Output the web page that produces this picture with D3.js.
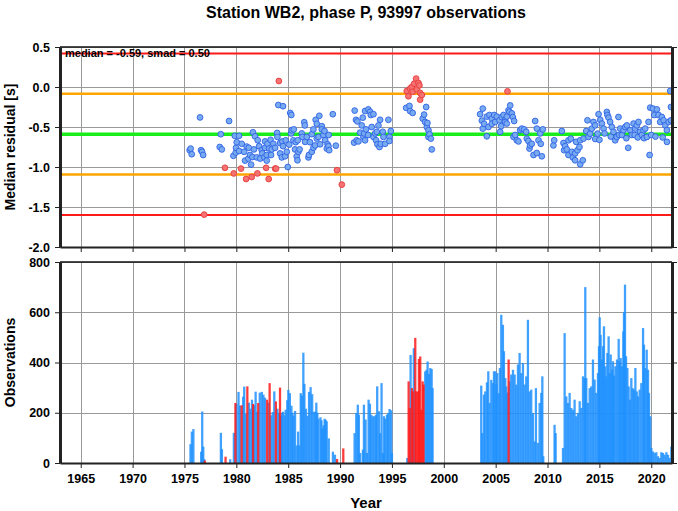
<!DOCTYPE html>
<html><head><meta charset="utf-8">
<script src="https://cdn.jsdelivr.net/npm/d3@7"></script>
<style>
body{margin:0;background:#fff}
text{font-family:"Liberation Sans",Arial,Helvetica,sans-serif;font-weight:bold;fill:#000}
</style>
</head><body>
<svg id="c" width="678" height="511"></svg>
<script>
const titleText = "Station WB2, phase P, 93997 observations";
const statsText = "median = -0.59, smad = 0.50";
const yTopLabel = "Median residual [s]";
const yBotLabel = "Observations";
const xLabel = "Year";
const medianVal = -0.59;
const smadVal = 0.505;
const xTicks = [1965,1970,1975,1980,1985,1990,1995,2000,2005,2010,2015,2020];
const yTopTicks = [0.5,0.0,-0.5,-1.0,-1.5,-2.0];
const yBotTicks = [0,200,400,600,800];

// residual points [year, median residual]
const bluePts = [
[1975.5,-0.79],[1975.6,-0.77],[1975.7,-0.84],[1976.5,-0.38],[1976.6,-0.79],[1976.7,-0.81],[1976.8,-0.85],
[1978.4,-0.75],[1978.5,-0.59],[1978.6,-0.78],[1979.3,-0.425],
[1979.72,-0.86],[1979.85,-0.61],[1979.94,-0.82],[1979.97,-0.76],[1980.04,-0.69],[1980.26,-0.61],[1980.26,-0.80],
[1980.52,-0.71],[1980.75,-0.81],[1980.84,-0.92],[1981.0,-0.745],[1981.16,-0.895],[1981.2,-0.76],[1981.32,-0.85],
[1981.42,-0.97],[1981.55,-0.875],[1981.6,-0.566],[1981.7,-0.78],[1981.8,-0.616],[1981.97,-0.88],[1982.06,-0.666],
[1982.2,-0.74],[1982.3,-0.895],[1982.45,-0.79],[1982.5,-0.83],[1982.7,-0.88],[1982.77,-0.68],[1982.77,-0.76],
[1982.93,-0.85],[1982.93,-0.92],[1983.0,-0.71],[1983.16,-0.77],[1983.3,-0.66],[1983.35,-0.85],[1983.41,-0.78],
[1983.57,-0.71],[1983.74,-0.76],[1983.93,-0.574],[1983.96,-0.624],[1984.05,-0.225],[1984.22,-0.70],[1984.22,-0.83],
[1984.38,-0.88],[1984.44,-0.68],[1984.5,-0.24],[1984.5,-0.74],[1984.7,-0.866],[1984.76,-0.666],[1984.86,-0.81],
[1984.96,-1.0],[1985.1,-0.72],[1985.2,-0.325],[1985.3,-0.35],[1985.28,-0.58],[1985.34,-0.54],[1985.5,-0.666],
[1985.54,-0.53],[1985.66,-0.78],[1985.73,-0.69],[1985.82,-0.866],[1985.89,-0.916],[1985.92,-0.666],[1985.98,-0.81],
[1986.1,-0.78],[1986.31,-0.58],[1986.37,-0.624],[1986.55,-0.44],[1986.6,-0.48],[1986.63,-0.686],[1986.79,-0.624],
[1986.95,-0.88],[1987.0,-0.85],[1987.1,-0.69],[1987.27,-0.59],[1987.27,-0.81],[1987.43,-0.53],[1987.43,-0.76],
[1987.6,-0.73],[1987.65,-0.41],[1987.76,-0.46],[1987.76,-0.645],[1987.92,-0.624],[1988.0,-0.36],[1988.08,-0.716],
[1988.24,-0.49],[1988.24,-0.53],[1988.4,-0.60],[1988.5,-0.55],[1988.56,-0.666],[1988.72,-0.77],[1988.8,-0.716],
[1988.88,-0.74],[1988.9,-0.60],[1988.95,-0.79],[1989.3,-0.34],[1989.59,-0.733],
[1991.35,-0.695],[1991.41,-0.295],[1991.54,-0.41],[1991.6,-0.666],[1991.67,-0.43],[1991.77,-0.68],[1991.93,-0.57],
[1992.09,-0.48],[1992.19,-0.383],[1992.25,-0.624],[1992.32,-0.58],[1992.41,-0.30],[1992.41,-0.666],[1992.5,-0.53],
[1992.7,-0.60],[1992.73,-0.28],[1992.9,-0.31],[1992.96,-0.35],[1993.05,-0.50],[1993.22,-0.34],[1993.22,-0.624],
[1993.38,-0.58],[1993.47,-0.666],[1993.54,-0.56],[1993.6,-0.716],[1993.7,-0.48],[1993.8,-0.75],[1993.86,-0.41],
[1993.92,-0.71],[1994.12,-0.56],[1994.18,-0.624],[1994.34,-0.71],[1994.66,-0.41],[1994.76,-0.624],[1994.76,-0.675],
[1994.89,-0.55],
[1996.37,-0.26],[1996.69,-0.237],[1996.75,-0.30],[1997.0,-0.324],[1997.97,-0.395],[1998.1,-0.345],[1998.2,-0.437],
[1998.3,-0.25],[1998.36,-0.50],[1998.42,-0.45],[1998.52,-0.54],[1998.52,-0.624],[1998.62,-0.59],[1998.75,-0.645],
[1998.84,-0.78],
[2003.5,-0.34],[2003.67,-0.42],[2003.76,-0.27],[2003.76,-0.52],[2003.89,-0.46],[2004.15,-0.37],[2004.15,-0.616],
[2004.3,-0.50],[2004.4,-0.35],[2004.63,-0.395],[2004.63,-0.46],[2004.86,-0.35],[2004.95,-0.437],[2005.11,-0.37],
[2005.37,-0.416],[2005.43,-0.56],[2005.53,-0.49],[2005.59,-0.375],[2005.76,-0.35],[2005.91,-0.416],[2005.92,-0.437],
[2006.07,-0.457],[2006.08,-0.37],[2006.24,-0.29],[2006.33,-0.31],[2006.4,-0.23],[2006.56,-0.33],[2006.65,-0.375],
[2006.72,-0.624],[2006.78,-0.425],[2006.88,-0.60],[2007.04,-0.666],[2007.2,-0.68],[2007.36,-0.54],[2007.52,-0.52],
[2007.75,-0.53],[2007.94,-0.56],[2008.0,-0.645],[2008.16,-0.675],[2008.26,-0.77],[2008.32,-0.73],[2008.48,-0.71],
[2008.65,-0.85],[2008.81,-0.425],[2008.97,-0.52],[2008.97,-0.825],[2009.13,-0.666],[2009.29,-0.58],[2009.35,-0.71],
[2009.45,-0.866],[2009.55,-0.53],
[2010.57,-0.73],[2010.64,-0.666],[2011.38,-0.55],[2011.54,-0.70],[2011.6,-0.79],[2011.7,-0.74],[2011.86,-0.78],
[2012.02,-0.666],[2012.02,-0.85],[2012.25,-0.645],[2012.34,-0.81],[2012.44,-0.88],[2012.66,-0.83],[2012.66,-0.916],
[2012.76,-0.686],[2012.89,-0.79],[2013.08,-0.75],[2013.15,-0.666],[2013.15,-0.966],[2013.4,-0.916],[2013.47,-0.645],
[2013.73,-0.55],[2013.85,-0.416],[2013.95,-0.624],[2014.11,-0.583],[2014.27,-0.52],[2014.43,-0.437],[2014.59,-0.48],
[2014.6,-0.65],[2014.82,-0.583],[2014.92,-0.34],[2015.0,-0.66],[2015.08,-0.41],[2015.24,-0.457],[2015.4,-0.52],
[2015.5,-0.58],[2015.72,-0.312],[2015.78,-0.35],[2015.88,-0.383],[2016.04,-0.437],[2016.1,-0.62],[2016.2,-0.50],
[2016.36,-0.56],[2016.52,-0.666],[2016.68,-0.624],[2016.84,-0.375],[2016.9,-0.60],[2017.0,-0.52],[2017.17,-0.60],
[2017.33,-0.54],[2017.49,-0.50],[2017.6,-0.64],[2017.65,-0.48],[2017.78,-0.76],[2017.97,-0.54],[2018.13,-0.60],
[2018.29,-0.457],[2018.4,-0.60],[2018.45,-0.52],[2018.61,-0.48],[2018.7,-0.63],[2018.77,-0.437],[2018.93,-0.56],
[2019.09,-0.60],[2019.25,-0.54],[2019.3,-0.64],[2019.42,-0.52],[2019.58,-0.624],[2019.74,-0.437],[2019.84,-0.85],
[2019.9,-0.258],[2020.0,-0.60],[2020.16,-0.27],[2020.29,-0.35],[2020.4,-0.62],[2020.54,-0.28],[2020.7,-0.35],
[2020.86,-0.437],[2021.02,-0.375],[2021.1,-0.63],[2021.19,-0.416],[2021.35,-0.48],[2021.51,-0.54],[2021.51,-0.686],
[2021.67,-0.437],[2021.9,-0.25],[2021.9,-0.416],[2021.83,-0.05]
];
const redPts = [
[1976.9,-1.595],[1978.9,-1.01],[1979.75,-1.08],[1980.45,-1.02],[1980.94,-1.15],[1981.48,-1.125],[1982.03,-1.08],
[1982.87,-1.01],[1983.12,-1.15],[1983.74,-1.02],[1983.83,-1.02],[1984.1,0.075],[1989.7,-1.04],[1990.17,-1.22],
[1996.43,-0.05],[1996.59,-0.116],[1996.75,-0.02],[1996.91,0.0],[1997.0,-0.06],[1997.14,0.042],[1997.33,0.105],
[1997.4,-0.03],[1997.56,0.05],[1997.65,0.02],[1997.72,-0.074],[1997.72,-0.158],[1997.88,-0.10],[2006.14,-0.054]
];

// monthly observation counts [year, count]
const blueBars = [
[1975.47,75],[1975.6,125],[1975.75,135],[1976.5,45],[1976.6,205],[1976.7,65],[1976.8,15],
[1978.4,120],[1978.5,55],[1979.3,15],[1979.65,120],
[1979.9,235],[1980.1,283],[1980.25,228],[1980.55,264],[1980.65,304],[1980.8,195],[1981.1,240],[1981.25,216],
[1981.4,252],[1981.6,230],[1981.75,284],[1981.9,204],[1982.15,280],[1982.35,283],[1982.5,272],[1982.65,260],
[1983.0,240],[1983.25,190],[1983.4,203],[1983.55,285],[1983.85,216],[1984.0,200],[1984.2,188],[1984.3,200],
[1984.4,204],[1984.55,190],[1984.65,212],[1984.8,250],[1984.9,291],[1985.05,278],[1985.2,228],[1985.3,200],
[1985.4,188],[1985.55,207],[1985.7,70],[1985.85,125],[1985.95,70],[1986.1,278],[1986.2,268],[1986.35,439],
[1986.45,315],[1986.6,216],[1986.75,188],[1986.9,283],[1987.05,302],[1987.2,274],[1987.35,204],[1987.5,204],
[1987.6,240],[1987.7,200],[1987.8,176],[1988.0,182],[1988.1,170],[1988.2,138],[1988.3,150],[1988.4,176],
[1988.5,172],[1988.6,166],[1988.8,98],[1989.2,45],[1989.4,33],
[1991.29,119],[1991.45,199],[1991.6,232],[1991.7,192],[1991.83,40],[1992.09,53],[1992.19,232],[1992.35,173],
[1992.48,40],[1992.64,252],[1992.77,236],[1992.9,192],[1993.05,186],[1993.22,186],[1993.34,192],[1993.47,305],
[1993.63,206],[1993.76,119],[1993.89,318],[1994.02,40],[1994.12,186],[1994.25,176],[1994.4,192],[1994.53,199],
[1994.66,215],[1994.82,210],[1994.89,40],
[1996.37,20],[1996.69,430],[1997.0,457],[1998.1,365],[1998.23,371],[1998.33,404],[1998.46,355],[1998.59,378],
[1998.72,374],[1998.81,298],
[2003.5,308],[2003.6,119],[2003.76,272],[2003.89,285],[2004.05,321],[2004.18,365],[2004.3,239],[2004.47,331],
[2004.63,318],[2004.73,365],[2004.86,365],[2004.95,312],[2005.05,358],[2005.18,278],[2005.3,378],[2005.43,590],
[2005.59,550],[2005.69,445],[2005.82,338],[2005.91,305],[2006.0,280],[2006.23,325],[2006.39,352],[2006.56,371],
[2006.72,352],[2006.88,312],[2007.04,392],[2007.2,438],[2007.36,358],[2007.52,398],[2007.68,312],[2007.84,345],
[2008.0,570],[2008.16,285],[2008.32,292],[2008.48,199],[2008.65,86],[2008.77,298],[2008.97,80],[2009.13,239],
[2009.29,279],[2009.39,345],[2009.48,27],
[2010.57,152],[2010.67,119],[2011.38,60],[2011.54,517],[2011.7,265],[2011.86,239],[2012.02,279],[2012.18,219],
[2012.34,212],[2012.5,252],[2012.66,186],[2012.82,199],[2012.99,246],[2013.15,219],[2013.31,345],[2013.47,338],
[2013.53,700],[2013.63,338],[2013.79,239],[2013.95,298],[2014.11,305],[2014.27,412],[2014.43,332],[2014.59,279],
[2014.75,358],[2014.85,465],[2014.92,580],[2015.01,510],[2015.14,412],[2015.24,465],[2015.33,544],[2015.46,385],
[2015.56,345],[2015.66,438],[2015.78,504],[2015.88,358],[2015.98,432],[2016.1,371],[2016.2,405],[2016.3,348],
[2016.43,385],[2016.59,412],[2016.75,494],[2016.84,405],[2016.94,418],[2017.07,385],[2017.2,524],[2017.26,600],
[2017.36,710],[2017.46,425],[2017.59,378],[2017.71,305],[2017.84,252],[2017.97,338],[2018.1,298],[2018.23,292],
[2018.36,378],[2018.49,285],[2018.61,265],[2018.77,292],[2018.93,318],[2019.1,537],[2019.19,471],[2019.32,378],
[2019.45,451],[2019.58,371],[2019.67,279],[2019.8,186],[2019.9,60],[2020.06,46],[2020.22,40],[2020.38,43],
[2020.54,27],[2020.7,20],[2020.86,43],[2021.02,40],[2021.19,33],[2021.35,43],[2021.51,33],[2021.67,20],
[2021.83,66],[2021.96,60]
];
const redBars = [
[1976.85,10],[1978.85,25],[1979.8,239],[1980.4,230],[1980.95,305],[1981.5,235],[1982.0,239],[1982.85,252],
[1983.1,318],[1983.7,245],[1984.1,300],[1989.6,16],[1990.2,58],
[1996.5,325],[1996.6,219],[1996.82,298],[1996.9,285],[1997.14,498],[1997.23,285],[1997.4,285],[1997.49,414],
[1997.62,424],[1997.72,212],[1997.85,325],[1997.94,312],[2006.14,412]
];

const svg = d3.select("#c");
const L = 60, R = 672;
const topT = 47, topB = 247, botT = 262, botB = 463;
const x = d3.scaleLinear().domain([1963, 2022]).range([L, R]);
const yTop = d3.scaleLinear().domain([-2, 0.5]).range([topB, topT]);
const yBot = d3.scaleLinear().domain([0, 800]).range([botB, botT]);
const barW = 0.22;

svg.append("defs").html(
  `<clipPath id="ct"><rect x="${L}" y="${topT}" width="${R-L}" height="${topB-topT}"/></clipPath>
   <clipPath id="cb"><rect x="${L}" y="${botT}" width="${R-L}" height="${botB-botT}"/></clipPath>`);

function grid(yScale, yTicks, t, b) {
  const g = svg.append("g").attr("stroke", "#9a9a9a").attr("stroke-width", 1);
  g.selectAll(".gx").data(xTicks).join("line")
    .attr("x1", d => Math.round(x(d)) + 0.5).attr("x2", d => Math.round(x(d)) + 0.5)
    .attr("y1", t).attr("y2", b);
  g.selectAll(".gy").data(yTicks).join("line")
    .attr("x1", L).attr("x2", R)
    .attr("y1", d => Math.round(yScale(d)) + 0.5).attr("y2", d => Math.round(yScale(d)) + 0.5);
}
grid(yTop, yTopTicks, topT, topB);
grid(yBot, yBotTicks, botT, botB);

// reference lines
const refLines = [
  {v: medianVal + 2*smadVal, c: "#ff1a1a", w: 2},
  {v: medianVal + smadVal, c: "#ffa500", w: 2.5},
  {v: medianVal, c: "#1aee1a", w: 3.5},
  {v: medianVal - smadVal, c: "#ffa500", w: 2.5},
  {v: medianVal - 2*smadVal, c: "#ff1a1a", w: 2}
];
svg.append("g").selectAll("line").data(refLines).join("line")
  .attr("x1", L).attr("x2", R)
  .attr("y1", d => yTop(d.v)).attr("y2", d => yTop(d.v))
  .attr("stroke", d => d.c).attr("stroke-width", d => d.w);

svg.append("text").attr("x", 65).attr("y", 57).attr("font-size", 11).text(statsText);

// points
const pg = svg.append("g").attr("clip-path", "url(#ct)");
pg.selectAll(".b").data(bluePts).join("circle")
  .attr("cx", d => x(d[0])).attr("cy", d => yTop(d[1])).attr("r", 2.9)
  .attr("fill", "#78aaf0").attr("stroke", "#2f62e6").attr("stroke-width", 0.9);
pg.selectAll(".r").data(redPts).join("circle")
  .attr("cx", d => x(d[0])).attr("cy", d => yTop(d[1])).attr("r", 2.9)
  .attr("fill", "#f57272").attr("stroke", "#e83b3b").attr("stroke-width", 0.9);

// bars
const bg = svg.append("g").attr("clip-path", "url(#cb)");
bg.selectAll(".bb").data(blueBars).join("rect")
  .attr("x", d => x(d[0])).attr("width", d => x(d[0] + barW) - x(d[0]))
  .attr("y", d => yBot(d[1])).attr("height", d => yBot(0) - yBot(d[1]))
  .attr("fill", "#1e90ff").attr("fill-opacity", 0.85);
bg.selectAll(".rb").data(redBars).join("rect")
  .attr("x", d => x(d[0])).attr("width", d => x(d[0] + barW) - x(d[0]))
  .attr("y", d => yBot(d[1])).attr("height", d => yBot(0) - yBot(d[1]))
  .attr("fill", "#ff1a1a").attr("fill-opacity", 0.85);

// axes / frames
function styleAxis(g, thick) {
  g.select(".domain").attr("stroke", "#222").attr("stroke-width", thick);
  g.selectAll(".tick line").attr("stroke", "#222").attr("stroke-width", 1);
  g.selectAll(".tick text").attr("font-size", 12.5).attr("font-family", "Liberation Sans, Arial, sans-serif")
    .attr("font-weight", "bold").attr("fill", "#000");
}
function panel(yScale, yTicks, fmt, t, b, xLabels) {
  svg.append("line").attr("x1", L).attr("x2", R).attr("y1", t).attr("y2", t)
    .attr("stroke", "#111").attr("stroke-width", 1.5);
  const ax = d3.axisBottom(x).tickValues(xTicks).tickSize(5).tickSizeOuter(0)
    .tickFormat(xLabels ? d => d : () => "").tickPadding(6);
  styleAxis(svg.append("g").attr("transform", `translate(0,${b})`).call(ax), 2);
  const al = d3.axisLeft(yScale).tickValues(yTicks).tickSize(5).tickSizeOuter(0).tickFormat(fmt).tickPadding(5);
  styleAxis(svg.append("g").attr("transform", `translate(${L},0)`).call(al), 3);
  const ar = d3.axisRight(yScale).tickValues(yTicks).tickSize(5).tickSizeOuter(0).tickFormat(() => "");
  styleAxis(svg.append("g").attr("transform", `translate(${R},0)`).call(ar), 3);
}
panel(yTop, yTopTicks, d => d.toFixed(1), topT, topB, false);
panel(yBot, yBotTicks, d => String(d), botT, botB, true);

// titles
svg.append("text").attr("x", (L + R) / 2).attr("y", 18).attr("text-anchor", "middle")
  .attr("font-size", 16).text(titleText);
svg.append("text").attr("transform", `translate(15,${(topT + topB) / 2}) rotate(-90)`)
  .attr("text-anchor", "middle").attr("font-size", 14).text(yTopLabel);
svg.append("text").attr("transform", `translate(15,${(botT + botB) / 2}) rotate(-90)`)
  .attr("text-anchor", "middle").attr("font-size", 14).text(yBotLabel);
svg.append("text").attr("x", (L + R) / 2).attr("y", 508).attr("text-anchor", "middle")
  .attr("font-size", 15).text(xLabel);
</script>
</body></html>
